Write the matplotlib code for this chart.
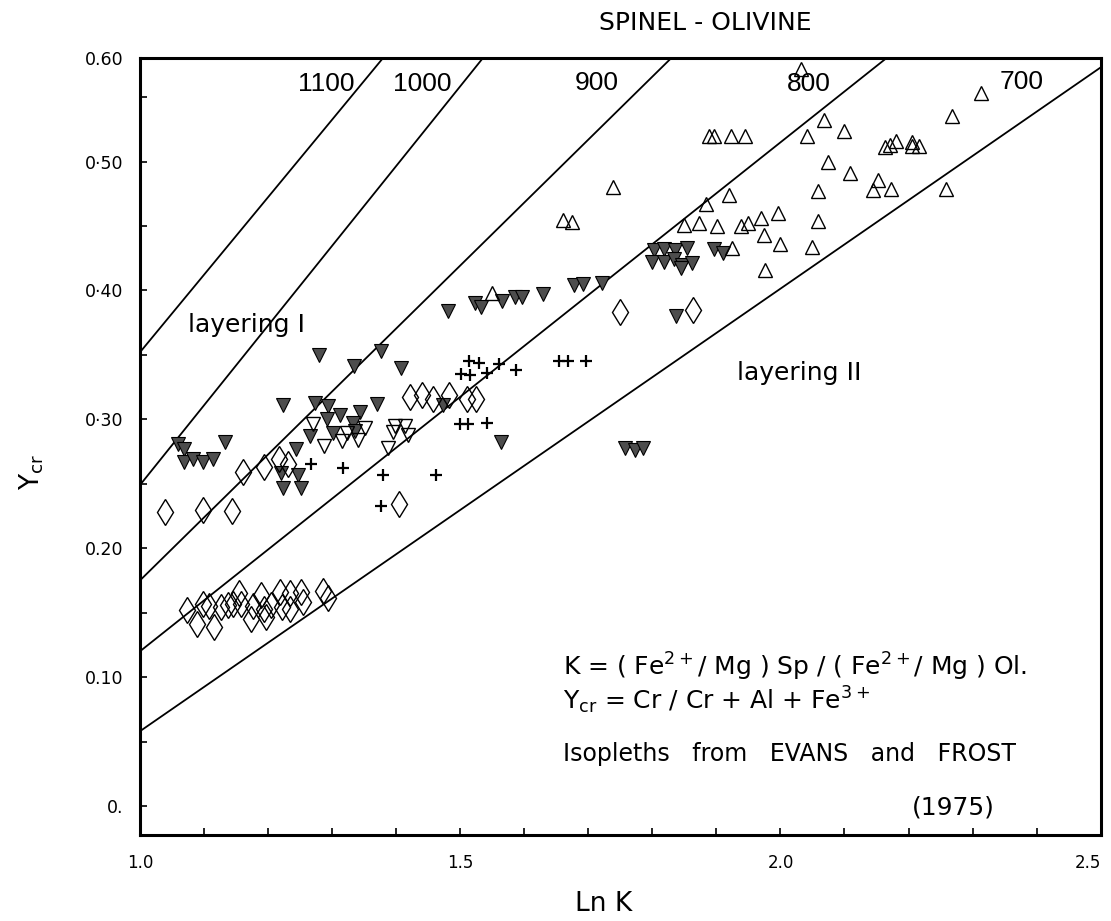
import matplotlib
matplotlib.use("Agg")
import matplotlib.pyplot as plt

# Isopleths (Evans & Frost 1975), end points in data units
iso_T = ["1100", "1000", "900", "800", "700"]
iso_x0 = [1.0, 1.0, 1.0, 1.0, 1.0]
iso_y0 = [0.352, 0.249, 0.175, 0.120, 0.058]
iso_x1 = [1.379, 1.535, 1.829, 2.165, 2.5]
iso_y1 = [0.58, 0.58, 0.58, 0.58, 0.573]
iso_lab_x = [1.291, 1.440, 1.713, 2.044, 2.376]
iso_lab_y = [0.560, 0.560, 0.561, 0.560, 0.562]

# filled down-triangles
filled_x = [1.279, 1.334, 1.377, 1.408, 1.223, 1.273, 1.293, 1.312, 1.292, 1.343,
            1.370, 1.333, 1.336, 1.302, 1.266, 1.243, 1.220, 1.247, 1.224, 1.252,
            1.060, 1.068, 1.133, 1.068, 1.082, 1.098, 1.114, 1.473, 1.481, 1.523,
            1.532, 1.566, 1.585, 1.597, 1.629, 1.678, 1.691, 1.722, 1.802, 1.818,
            1.835, 1.854, 1.799, 1.818, 1.834, 1.846, 1.862, 1.844, 1.896, 1.911,
            1.837, 1.563, 1.758, 1.773, 1.786]
filled_y = [0.350, 0.341, 0.353, 0.340, 0.311, 0.313, 0.310, 0.303, 0.300, 0.306,
            0.312, 0.297, 0.291, 0.289, 0.287, 0.277, 0.258, 0.257, 0.247, 0.247,
            0.281, 0.277, 0.282, 0.267, 0.269, 0.267, 0.269, 0.311, 0.384, 0.390,
            0.387, 0.392, 0.395, 0.395, 0.397, 0.404, 0.405, 0.406, 0.431, 0.432,
            0.431, 0.433, 0.422, 0.422, 0.424, 0.420, 0.421, 0.417, 0.432, 0.429,
            0.380, 0.282, 0.278, 0.276, 0.278]

# open down-triangles
odown_x = [1.270, 1.287, 1.316, 1.324, 1.341, 1.352, 1.398, 1.414, 1.395, 1.419, 1.388]
odown_y = [0.296, 0.279, 0.283, 0.289, 0.284, 0.293, 0.295, 0.295, 0.290, 0.288, 0.278]

# open diamonds
diam_x = [1.039, 1.099, 1.143, 1.161, 1.194, 1.217, 1.231, 1.421, 1.441, 1.457,
          1.483, 1.511, 1.525, 1.405, 1.749, 1.863,
          1.073, 1.089, 1.099, 1.108, 1.115, 1.126, 1.137, 1.146, 1.154, 1.157,
          1.173, 1.177, 1.189, 1.193, 1.196, 1.205, 1.219, 1.221, 1.235, 1.235,
          1.252, 1.255, 1.286, 1.293]
diam_y = [0.228, 0.230, 0.229, 0.259, 0.263, 0.269, 0.265, 0.317, 0.319, 0.316,
          0.319, 0.316, 0.316, 0.234, 0.383, 0.385,
          0.152, 0.141, 0.157, 0.155, 0.139, 0.154, 0.156, 0.157, 0.165, 0.157,
          0.145, 0.155, 0.164, 0.153, 0.147, 0.156, 0.166, 0.154, 0.165, 0.153,
          0.166, 0.158, 0.167, 0.161]

# plus signs
plus_x = [1.267, 1.317, 1.379, 1.462, 1.377, 1.514, 1.529, 1.560, 1.501, 1.516,
          1.542, 1.587, 1.654, 1.668, 1.696, 1.500, 1.512, 1.542]
plus_y = [0.265, 0.262, 0.257, 0.257, 0.233, 0.345, 0.344, 0.343, 0.335, 0.334,
          0.336, 0.338, 0.345, 0.345, 0.345, 0.296, 0.296, 0.297]

# open up-triangles
up_x = [1.739, 1.661, 1.675, 1.889, 1.897, 1.923, 1.944, 1.919, 1.884, 1.850,
        1.873, 1.901, 1.938, 1.949, 1.970, 1.996, 1.975, 1.999, 1.924, 1.976,
        1.550, 2.032, 2.068, 2.042, 2.100, 2.074, 2.109, 2.058, 2.059, 2.050,
        2.153, 2.144, 2.172, 2.163, 2.171, 2.181, 2.205, 2.206, 2.217, 2.268,
        2.313, 2.258]
up_y = [0.480, 0.455, 0.453, 0.520, 0.520, 0.520, 0.520, 0.474, 0.467, 0.451,
        0.452, 0.450, 0.450, 0.452, 0.456, 0.460, 0.443, 0.436, 0.433, 0.416,
        0.398, 0.572, 0.532, 0.520, 0.524, 0.500, 0.491, 0.477, 0.454, 0.434,
        0.486, 0.478, 0.479, 0.511, 0.513, 0.516, 0.515, 0.512, 0.512, 0.535,
        0.553, 0.479]

ytick_pos = [0.0, 0.1, 0.2, 0.3, 0.4, 0.5, 0.58]
ytick_lab = ["0.", "0.10", "0.20", "0\u00b730", "0\u00b740", "0\u00b750", "0.60"]
xtick_pos = [1.0, 1.5, 2.0, 2.5]
xtick_lab = ["1.0", "1.5", "2.0", "2.5"]

fig = plt.figure(figsize=(11.11, 9.21), dpi=100)
ax = fig.add_axes([0.126, 0.0934, 0.8647, 0.8432])

for x0, y0, x1, y1 in zip(iso_x0, iso_y0, iso_x1, iso_y1):
    ax.plot([x0, x1], [y0, y1], color="black", lw=1.3, zorder=2)
for t, lx, ly in zip(iso_T, iso_lab_x, iso_lab_y):
    ax.text(lx, ly, t, ha="center", va="center", fontsize=19,
            family="Liberation Sans")

ax.plot(filled_x, filled_y, "v", ms=9.5, mfc="#4d4d4d", mec="black", mew=0.8,
        ls="none", zorder=3)
ax.plot(odown_x, odown_y, "v", ms=9.5, mfc="none", mec="black", mew=1.0,
        ls="none", zorder=3)
ax.plot(diam_x, diam_y, "d", ms=13, mfc="none", mec="black", mew=1.0,
        ls="none", zorder=3)
ax.plot(plus_x, plus_y, "+", ms=8, mec="black", mew=1.6, ls="none", zorder=3)
ax.plot(up_x, up_y, "^", ms=9.5, mfc="none", mec="black", mew=1.0,
        ls="none", zorder=3)

ax.set_xlim(1.0, 2.5)
ax.set_ylim(-0.0225, 0.58)
ax.set_xticks(xtick_pos)
ax.set_xticklabels(xtick_lab)
ax.set_xticks([1.0 + 0.1 * i for i in range(16)], minor=True)
ax.set_yticks(ytick_pos)
ax.set_yticklabels(ytick_lab)
ax.set_yticks([0.05, 0.15, 0.25, 0.35, 0.45, 0.55], minor=True)
ax.tick_params(which="both", direction="in", length=5, width=1.2)
ax.tick_params(axis="y", which="major", pad=12, labelsize=12.5)
ax.tick_params(axis="x", which="major", pad=14, labelsize=12)
ax.get_xticklabels()[-1].set_ha("right")
for s in ax.spines.values():
    s.set_linewidth(2.2)

ax.text(1.075, 0.373, "layering I", ha="left", va="center", fontsize=18)
ax.text(1.932, 0.336, "layering II", ha="left", va="center", fontsize=18)

ax.text(1.66, 0.108, r"K = ( Fe$^{2+}$/ Mg ) Sp / ( Fe$^{2+}$/ Mg ) Ol.",
        ha="left", va="center", fontsize=18)
ax.text(1.66, 0.082, r"Y$_{\rm cr}$ = Cr / Cr + Al + Fe$^{3+}$",
        ha="left", va="center", fontsize=18)
ax.text(1.66, 0.040, "Isopleths   from   EVANS   and   FROST",
        ha="left", va="center", fontsize=17)
ax.text(2.27, -0.001, "(1975)", ha="center", va="center", fontsize=18)

fig.text(0.6346, 0.975, "SPINEL - OLIVINE", ha="center", va="center",
         fontsize=18)
fig.text(0.543, 0.018, "Ln K", ha="center", va="center", fontsize=19)
fig.text(0.029, 0.4875, r"Y$_{\rm cr}$", ha="center", va="center",
         rotation=90, fontsize=19)

fig.savefig("out.png", dpi=100)
